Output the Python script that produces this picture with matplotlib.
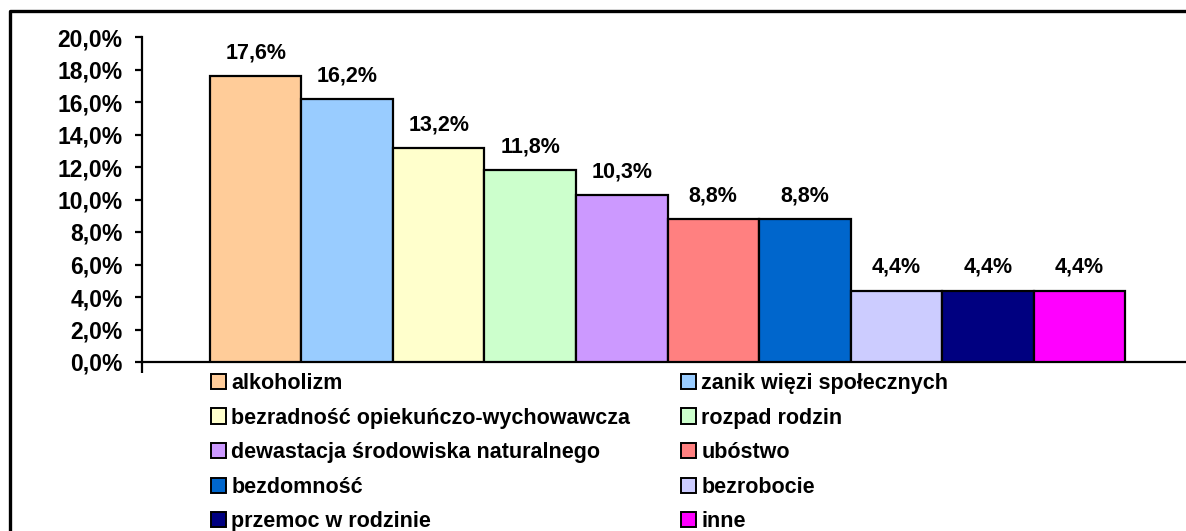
import matplotlib.pyplot as plt
from matplotlib.lines import Line2D
from matplotlib.patches import Patch
from matplotlib.ticker import FuncFormatter

plt.rcParams['font.family'] = ['Liberation Sans', 'DejaVu Sans']
plt.rcParams['font.weight'] = 'bold'

categories = ['alkoholizm', 'zanik więzi społecznych', 'bezradność opiekuńczo-wychowawcza',
              'rozpad rodzin', 'dewastacja środowiska naturalnego', 'ubóstwo',
              'bezdomność', 'bezrobocie', 'przemoc w rodzinie', 'inne']
values = [17.6, 16.2, 13.2, 11.8, 10.3, 8.8, 8.8, 4.4, 4.4, 4.4]
colors = ['#FFCC99', '#99CCFF', '#FFFFCC', '#CCFFCC', '#CC99FF', '#FF8080',
          '#0066CC', '#CCCCFF', '#000080', '#FF00FF']
yticks = [0, 2, 4, 6, 8, 10, 12, 14, 16, 18, 20]

W, H = 1186, 531
fig = plt.figure(figsize=(W / 100, H / 100), dpi=100)
# plot area in pixels: left 142, right 1193, top 37, bottom 362
ax = fig.add_axes([142 / W, (H - 362) / H, (1193 - 142) / W, (362 - 37) / H])

x = list(range(len(values)))
ax.bar(x, values, width=1.0, color=colors, edgecolor='black', linewidth=1.6, zorder=3)
for xi, v in zip(x, values):
    ax.annotate(f'{v:.1f}%'.replace('.', ','), (xi, v), xytext=(0, 9),
                textcoords='offset points', ha='center', va='bottom',
                fontsize=15.5, fontweight='bold')

ax.set_xlim(-1.243, 10.243)
ax.set_ylim(0, 20)
ax.set_yticks(yticks)
ax.yaxis.set_major_formatter(FuncFormatter(lambda v, p: f'{v:.1f}%'.replace('.', ',')))
ax.tick_params(axis='y', direction='out', length=5, width=1.6, pad=9, labelsize=16.5)
ax.set_xticks([-1.243])
ax.set_xticklabels([''])
ax.tick_params(axis='x', direction='out', length=8, width=1.6)
for lbl in ax.get_yticklabels():
    lbl.set_fontweight('bold')
for s in ['top', 'right']:
    ax.spines[s].set_visible(False)
for s in ['left', 'bottom']:
    ax.spines[s].set_linewidth(1.6)

# legend, row-major in two columns
handles = [Patch(facecolor=c, edgecolor='black', linewidth=1.4) for c in colors]
col1 = list(range(0, 10, 2))
col2 = list(range(1, 10, 2))
for idx, xpos in [(col1, 211), (col2, 681)]:
    leg = fig.legend([handles[i] for i in idx], [categories[i] for i in idx],
                     loc='upper left', bbox_to_anchor=(xpos / W, (H - 373) / H),
                     frameon=False, fontsize=15.5, handlelength=0.7, handleheight=0.7,
                     handletextpad=0.25, labelspacing=0.63, borderaxespad=0, borderpad=0)
    for t in leg.get_texts():
        t.set_fontweight('bold')

# outer chart frame
fig.add_artist(Line2D([10 / W, 10 / W, 1.0], [0, (H - 11) / H, (H - 11) / H],
                      transform=fig.transFigure, color='black', linewidth=2.4))

fig.savefig('out.png', dpi=100)
